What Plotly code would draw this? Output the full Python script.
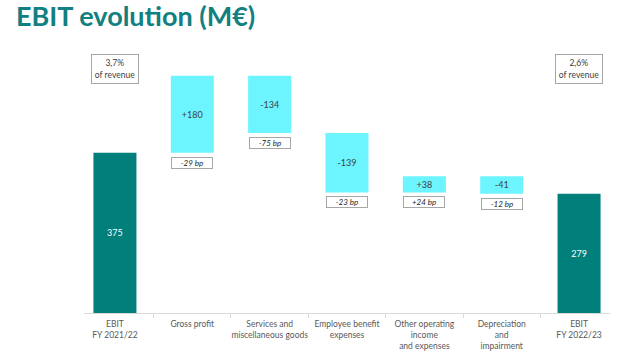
import plotly.graph_objects as go

categories = ["EBIT<br>FY 2021/22", "Gross profit", "Services and<br>miscellaneous goods",
              "Employee benefit<br>expenses", "Other operating<br>income<br>and expenses",
              "Depreciation<br>and<br>impairment", "EBIT<br>FY 2022/23"]
values = [375, 180, -134, -139, 38, -41, 279]
measures = ["absolute", "relative", "relative", "relative", "relative", "relative", "total"]
bar_labels = ["375", "+180", "-134", "-139", "+38", "-41", "279"]
bp_labels = [None, "-29 bp", "-75 bp", "-23 bp", "+24 bp", "-12 bp", None]
revenue_labels = ["3,7%<br>of revenue", None, None, None, None, None, "2,6%<br>of revenue"]

TEAL = "#007F7B"
CYAN = "#6CF4FF"
FONT = "Lato"

fig = go.Figure()
fig.add_trace(go.Waterfall(
    x=categories, y=values, measure=measures,
    text=bar_labels, textposition="inside", insidetextanchor="middle",
    constraintext="none",
    textfont=dict(family=FONT, size=9,
                  color=["white" if m != "relative" else "#404040" for m in measures]),
    increasing=dict(marker=dict(color=CYAN, line=dict(width=0))),
    decreasing=dict(marker=dict(color=CYAN, line=dict(width=0))),
    totals=dict(marker=dict(color=TEAL, line=dict(width=0))),
    connector=dict(visible=False),
    width=0.556,
    hoverinfo="skip",
))

# compute bar bottoms for bp boxes
running = 0
bottoms = []
for v, m in zip(values, measures):
    if m == "absolute":
        running = v
        bottoms.append(0)
    elif m == "total":
        bottoms.append(0)
    else:
        start = running
        running += v
        bottoms.append(min(start, running))

annotations = []
for cat, bp, b in zip(categories, bp_labels, bottoms):
    if bp:
        annotations.append(dict(
            x=cat, y=b, xref="x", yref="y", yanchor="top", yshift=-4,
            text="<i>" + bp + "</i>", showarrow=False,
            font=dict(family=FONT, size=8, color="#262626"),
            bordercolor="#A6A6A6", borderwidth=1, borderpad=0,
            width=40, height=10, bgcolor="white",
        ))
for cat, rv in zip(categories, revenue_labels):
    if rv:
        annotations.append(dict(
            x=cat, y=572, xref="x", yref="y", yanchor="middle",
            text=rv, showarrow=False,
            font=dict(family=FONT, size=8.5, color="#404040"),
            bordercolor="#A6A6A6", borderwidth=1, borderpad=1,
            width=44, height=26, bgcolor="white",
        ))

fig.update_layout(
    width=640, height=353,
    margin=dict(l=84, r=30, t=48, b=40),
    paper_bgcolor="white", plot_bgcolor="white",
    showlegend=False,
    title=dict(text="<b>EBIT evolution (M€)</b>", x=0.025, xanchor="left",
               xref="container", y=1 - 17 / 353, yanchor="middle", yref="container",
               font=dict(family=FONT, size=27, color="#127F80")),
    annotations=annotations,
    font=dict(family=FONT),
)
fig.update_xaxes(
    type="category", range=[-0.4, 6.4],
    showline=True, linecolor="#D9D9D9", linewidth=1,
    ticks="outside", tickson="boundaries", ticklen=4, tickcolor="#D9D9D9",
    tickangle=0, automargin=False, ticklabelstandoff=3,
    tickfont=dict(family=FONT, size=8.5, color="#595959"),
    showgrid=False,
)
fig.update_yaxes(range=[0, 620], visible=False, showgrid=False, zeroline=False,
                 automargin=False)

fig.write_html("out.html")
